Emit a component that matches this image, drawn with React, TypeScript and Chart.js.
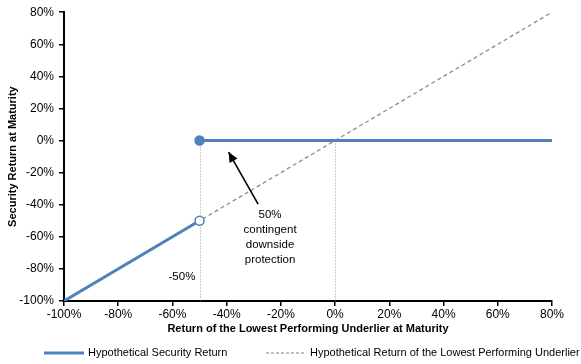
import React, { useEffect, useRef } from "react";
import { Chart, registerables } from "chart.js";
Chart.register(...registerables);

const securityX = [-100, -50, null, -50, 80];
const securityY = [-100, -50, null, 0, 0];
const underlierX = [-100, 80];
const underlierY = [-100, 80];
const securityRadius = [0, 4.5, 0, 4.5, 0];
const seriesNames = ["Hypothetical Security Return", "Hypothetical Return of the Lowest Performing Underlier"];
const annotationLines = ["50%", "contingent", "downside", "protection"];
const thresholdLabel = "-50%";
const xTitle = "Return of the Lowest Performing Underlier at Maturity";
const yTitle = "Security Return at Maturity";

const BLUE = "#4F81BD";
const FONT = "'Liberation Sans', Arial, sans-serif";

const overlay = {
  id: "overlay",
  beforeDatasetsDraw(chart: any) {
    const { ctx, scales } = chart;
    const x = scales.x, y = scales.y;
    ctx.save();
    ctx.strokeStyle = "#9a9a9a";
    ctx.lineWidth = 1;
    ctx.setLineDash([1, 2]);
    [-50, 0].forEach((v) => {
      const px = Math.round(x.getPixelForValue(v)) + 0.5;
      ctx.beginPath();
      ctx.moveTo(px, y.getPixelForValue(0));
      ctx.lineTo(px, y.getPixelForValue(-100));
      ctx.stroke();
    });
    ctx.restore();
  },
  afterDraw(chart: any) {
    const { ctx, scales } = chart;
    const x = scales.x, y = scales.y;
    ctx.save();
    ctx.fillStyle = "#000";
    ctx.font = `11.5px ${FONT}`;
    ctx.textAlign = "center";
    ctx.textBaseline = "middle";
    const tx = x.getPixelForValue(-24);
    const ty0 = y.getPixelForValue(-46.5);
    annotationLines.forEach((t, i) => ctx.fillText(t, tx, ty0 + i * 15));
    ctx.fillText(thresholdLabel, x.getPixelForValue(-56.5), y.getPixelForValue(-85));
    const x1 = x.getPixelForValue(-28.4), y1 = y.getPixelForValue(-39.6);
    const x2 = x.getPixelForValue(-39.3), y2 = y.getPixelForValue(-7.2);
    ctx.strokeStyle = "#000";
    ctx.lineWidth = 1.6;
    ctx.beginPath();
    ctx.moveTo(x1, y1);
    ctx.lineTo(x2, y2);
    ctx.stroke();
    const ang = Math.atan2(y2 - y1, x2 - x1);
    const L = 10, W = 4.5;
    ctx.beginPath();
    ctx.moveTo(x2, y2);
    ctx.lineTo(x2 - L * Math.cos(ang) + W * Math.sin(ang), y2 - L * Math.sin(ang) - W * Math.cos(ang));
    ctx.lineTo(x2 - L * Math.cos(ang) - W * Math.sin(ang), y2 - L * Math.sin(ang) + W * Math.cos(ang));
    ctx.closePath();
    ctx.fill();
    const ly = 353;
    ctx.textAlign = "left";
    ctx.font = `11px ${FONT}`;
    ctx.strokeStyle = BLUE;
    ctx.lineWidth = 3;
    ctx.beginPath();
    ctx.moveTo(44, ly);
    ctx.lineTo(84, ly);
    ctx.stroke();
    ctx.fillText(seriesNames[0], 88, ly);
    ctx.strokeStyle = "#808080";
    ctx.lineWidth = 1;
    ctx.setLineDash([3, 2]);
    ctx.beginPath();
    ctx.moveTo(266, ly);
    ctx.lineTo(306, ly);
    ctx.stroke();
    ctx.setLineDash([]);
    ctx.fillText(seriesNames[1], 310, ly);
    ctx.restore();
  },
};

export default function App() {
  const ref = useRef<HTMLCanvasElement>(null);
  useEffect(() => {
    document.body.style.margin = "0";
    const toPts = (xs: any[], ys: any[]) => xs.map((v, i) => ({ x: v, y: ys[i] }));
    const chart = new Chart(ref.current!, {
      type: "line",
      data: {
        datasets: [
          {
            label: seriesNames[1],
            data: toPts(underlierX, underlierY),
            borderColor: "#8c8c8c",
            borderWidth: 1.3,
            borderDash: [4, 3],
            pointRadius: 0,
            order: 2,
          },
          {
            label: seriesNames[0],
            data: toPts(securityX, securityY) as any,
            borderColor: BLUE,
            borderWidth: 3,
            spanGaps: false,
            pointRadius: securityRadius,
            pointBorderWidth: 1.5,
            pointBackgroundColor: ["#fff", "#fff", "#fff", BLUE, BLUE],
            pointBorderColor: BLUE,
            order: 1,
          },
        ],
      },
      options: {
        animation: false,
        responsive: false,
        layout: { padding: { left: 0, right: 29, top: 11, bottom: 28 } },
        plugins: { legend: { display: false }, tooltip: { enabled: false } },
        scales: {
          x: {
            type: "linear",
            min: -100,
            max: 80,
            afterFit: (s: any) => { s.height = 35; },
            ticks: { stepSize: 20, color: "#000", font: { family: FONT, size: 12 }, callback: (v: any) => v + "%", padding: 1 },
            grid: { drawOnChartArea: false, drawTicks: true, tickLength: 5, color: "#000", lineWidth: 1.5 },
            border: { color: "#000", width: 2 },
            title: { display: true, text: xTitle, color: "#000", font: { family: FONT, size: 11, weight: "bold" }, padding: { top: 1, bottom: 0 } },
          },
          y: {
            min: -100,
            max: 80,
            afterFit: (s: any) => { s.width = 64; },
            ticks: { stepSize: 20, color: "#000", font: { family: FONT, size: 12 }, callback: (v: any) => v + "%", padding: 5 },
            grid: { drawOnChartArea: false, drawTicks: true, tickLength: 5, color: "#000", lineWidth: 1.5 },
            border: { color: "#000", width: 2 },
            title: { display: true, text: yTitle, color: "#000", font: { family: FONT, size: 11, weight: "bold" }, padding: { top: 6, bottom: 0 } },
          },
        },
      } as any,
      plugins: [overlay],
    });
    return () => chart.destroy();
  }, []);
  return (
    <div style={{ width: 581, height: 364 }}>
      <canvas ref={ref} width={581} height={364} style={{ display: "block" }} />
    </div>
  );
}
